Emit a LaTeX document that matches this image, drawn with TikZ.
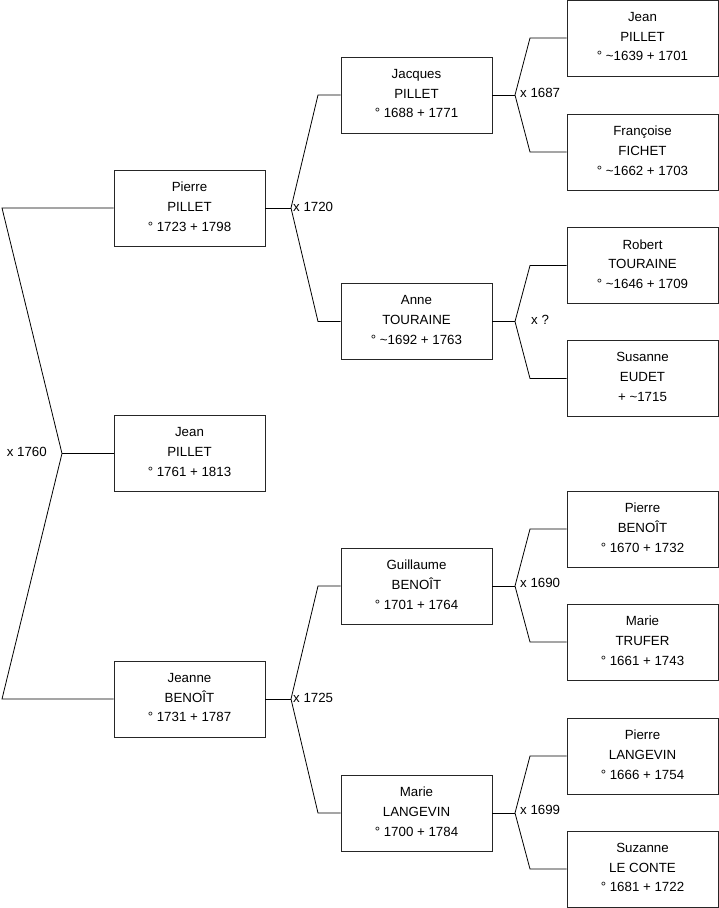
\documentclass[tikz,border=0pt]{standalone}
\usepackage{fontspec}
\setmainfont{Liberation Sans}
\begin{document}
\begin{tikzpicture}[x=1pt,y=-1pt,
  person/.style={draw=black!85, line width=0.8pt, minimum width=151pt, minimum height=76pt, inner sep=0pt, text depth=3pt, align=center, font=\fontsize{13.3}{19.8}\selectfont},
  marr/.style={inner sep=0pt, font=\fontsize{13.3}{15}\selectfont},
  link/.style={draw=black, line width=0.8pt}]
\useasboundingbox (0,0) rectangle (719,908);
% generation 1
\node[person] (pierre) at (189.5,208) {Pierre\\PILLET\\° 1723 + 1798};
\node[person] (jean) at (189.5,453.5) {Jean\\PILLET\\° 1761 + 1813};
\node[person] (jeanne) at (189.5,699) {Jeanne\\BENOÎT\\° 1731 + 1787};
% generation 2
\node[person] (jacques) at (416.5,95) {Jacques\\PILLET\\° 1688 + 1771};
\node[person] (anne) at (416.5,321.5) {Anne\\TOURAINE\\° \textasciitilde1692 + 1763};
\node[person] (guillaume) at (416.5,586) {Guillaume\\BENOÎT\\° 1701 + 1764};
\node[person] (marie) at (416.5,813) {Marie\\LANGEVIN\\° 1700 + 1784};
% generation 3
\node[person] (jeanp) at (642.5,38) {Jean\\PILLET\\° \textasciitilde1639 + 1701};
\node[person] (francoise) at (642.5,152) {Françoise\\FICHET\\° \textasciitilde1662 + 1703};
\node[person] (robert) at (642.5,265.5) {Robert\\TOURAINE\\° \textasciitilde1646 + 1709};
\node[person] (susanne) at (642.5,378.5) {Susanne\\EUDET\\+ \textasciitilde1715};
\node[person] (pierreb) at (642.5,529) {Pierre\\BENOÎT\\° 1670 + 1732};
\node[person] (marieb) at (642.5,642) {Marie\\TRUFER\\° 1661 + 1743};
\node[person] (pierrel) at (642.5,756) {Pierre\\LANGEVIN\\° 1666 + 1754};
\node[person] (suzanne) at (642.5,869) {Suzanne\\LE CONTE\\° 1681 + 1722};
% fork coordinates
\coordinate (f0) at (62,453.5);
\coordinate (f0a) at (2,208);
\coordinate (f0b) at (2,699);
\coordinate (f1) at (291,208);
\coordinate (f1a) at (318,95);
\coordinate (f1b) at (318,321.5);
\coordinate (f2) at (291,699);
\coordinate (f2a) at (318,586);
\coordinate (f2b) at (318,813);
\coordinate (f3) at (515,95);
\coordinate (f3a) at (530,38);
\coordinate (f3b) at (530,152);
\coordinate (f4) at (515,321.5);
\coordinate (f4a) at (530,265.5);
\coordinate (f4b) at (530,378.5);
\coordinate (f5) at (515,586);
\coordinate (f5a) at (530,529);
\coordinate (f5b) at (530,642);
\coordinate (f6) at (515,813);
\coordinate (f6a) at (530,756);
\coordinate (f6b) at (530,869);
% connectors
\draw[link] (jean.west) -- (f0);
\draw[link] (pierre.west) -- (f0a) -- (f0) -- (f0b) -- (jeanne.west);
\draw[link] (pierre.east) -- (f1);
\draw[link] (jacques.west) -- (f1a) -- (f1) -- (f1b) -- (anne.west);
\draw[link] (jeanne.east) -- (f2);
\draw[link] (guillaume.west) -- (f2a) -- (f2) -- (f2b) -- (marie.west);
\draw[link] (jacques.east) -- (f3);
\draw[link] (jeanp.west) -- (f3a) -- (f3) -- (f3b) -- (francoise.west);
\draw[link] (anne.east) -- (f4);
\draw[link] (robert.west) -- (f4a) -- (f4) -- (f4b) -- (susanne.west);
\draw[link] (guillaume.east) -- (f5);
\draw[link] (pierreb.west) -- (f5a) -- (f5) -- (f5b) -- (marieb.west);
\draw[link] (marie.east) -- (f6);
\draw[link] (pierrel.west) -- (f6a) -- (f6) -- (f6b) -- (suzanne.west);
% marriage labels
\node[marr, anchor=east] (m0) at (47,452) {x 1760};
\node[marr, anchor=west] (m1) at (293,207) {x 1720};
\node[marr, anchor=west] (m2) at (293,698) {x 1725};
\node[marr, anchor=west] (m3) at (520,93) {x 1687};
\node[marr, anchor=west] (m4) at (531,320) {x ?};
\node[marr, anchor=west] (m5) at (520,583) {x 1690};
\node[marr, anchor=west] (m6) at (520,810) {x 1699};
\end{tikzpicture}
\end{document}
